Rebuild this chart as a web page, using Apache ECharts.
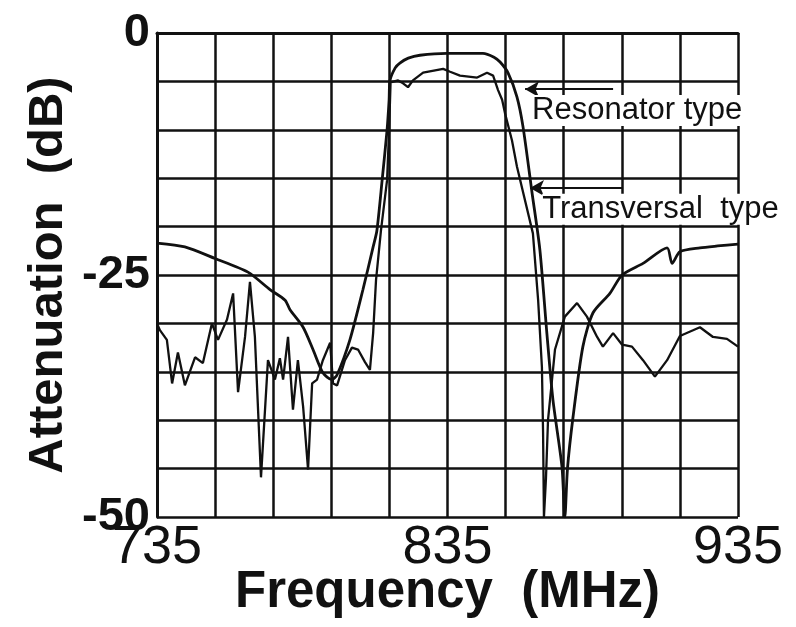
<!DOCTYPE html>
<html>
<head>
<meta charset="utf-8">
<script src="https://cdn.jsdelivr.net/npm/echarts@6/dist/echarts.min.js"></script>
<style>
  html, body { margin: 0; padding: 0; background: #fff; }
  #chart { width: 796px; height: 627px; }
</style>
</head>
<body>
<div id="chart"></div>
<script>
// Resonator-type SAW filter response (frequency in MHz, attenuation in dB)
const resonatorFreq = [735, 744.6, 755.0, 766.3, 773.9, 779.1, 780.8, 785.3, 788.7, 792.1, 795.2, 797.0,
  801.4, 805.9, 809.4, 810.7, 812.5, 814.2, 814.9, 815.2, 817.0, 818.6, 821.5, 825.5, 834.8, 847.2,
  851.0, 853.1, 855.8, 858.9, 861.0, 864.1, 866.8, 869.2, 871.3, 874.4, 875.4, 876.3, 878.2, 881.6,
  885.1, 890.9, 895.1, 902.3, 910.6, 912.3, 915.0, 921.9, 928.0, 935];
const resonatorAtt = [-21.7, -22.1, -23.3, -24.7, -26.5, -27.6, -28.6, -30.4, -32.7, -35.1, -35.8, -35.3,
  -31.7, -26.5, -22.1, -20.4, -15.2, -10.0, -6.9, -4.9, -3.6, -3.1, -2.6, -2.3, -2.1, -2.1,
  -2.5, -3.0, -4.1, -6.6, -9.7, -16.5, -22.4, -31.0, -37.9, -44.8, -50, -45.0, -39.7, -32.4,
  -28.9, -26.9, -25.0, -23.8, -22.2, -23.8, -22.6, -22.2, -22.0, -21.8];

// Transversal-type SAW filter response
const transversalFreq = [735, 736, 738.4, 740.2, 742.2, 744.6, 748.1, 750.8, 753.9, 756.0, 759.1, 761.2,
  762.9, 765.3, 767.0, 768.7, 770.8, 773.2, 775.6, 777.3, 778.4, 780.1, 781.8, 783.5, 785.3, 787.0,
  788.4, 790.1, 792.1, 794.6, 795.6, 797.0, 799.7, 802.1, 804.2, 806.6, 808.3, 809.4, 810.4, 812.1,
  814.2, 814.9, 815.4, 818.0, 819.7, 821.4, 823.1, 826.6, 833.5, 835.9, 839.3, 845.2, 848.6, 850.7,
  852.4, 853.8, 854.8, 857.2, 858.9, 864.4, 866.2, 867.5, 867.9, 868.2, 868.9, 869.6, 872.0, 875.4,
  879.6, 883.0, 886.5, 888.5, 892.0, 895.1, 898.5, 902.3, 906.4, 910.6, 915.0, 921.9, 926.4, 931.2, 935];
const transversalAtt = [-30.0, -30.7, -31.7, -36.2, -33.0, -36.4, -33.5, -34.1, -30.0, -31.7, -29.6, -26.9,
  -37.1, -31.4, -25.7, -31.4, -45.9, -33.8, -35.8, -33.6, -35.8, -31.4, -38.9, -33.8, -38.6, -45.1,
  -36.2, -35.8, -33.8, -32.0, -36.2, -36.4, -33.8, -32.5, -32.7, -34.0, -34.8, -31.0, -25.5, -20.4,
  -15.2, -10.0, -5.1, -4.9, -5.2, -5.6, -4.9, -4.1, -3.7, -4.0, -4.4, -4.6, -4.1, -4.4,
  -5.9, -6.9, -8.3, -11.1, -13.8, -20.7, -27.6, -34.5, -41.3, -50, -46.0, -40.0, -32.7, -29.3,
  -27.9, -29.3, -31.4, -32.4, -31.0, -32.2, -32.4, -33.8, -35.5, -33.8, -31.3, -30.4, -31.4, -31.6, -32.4];

// Axis ticks
const xGridValues = [735, 755, 775, 795, 815, 835, 855, 875, 895, 915, 935];
const xLabelValues = [735, 835, 935];
const yLabelValues = [0, -25, -50];

const seriesNames = ['Resonator type', 'Transversal  type'];

const zip = (xs, ys) => xs.map((x, i) => [x, ys[i]]);

const ink = '#111';
const font = '"Liberation Sans", Arial, Helvetica, sans-serif';

// Callout arrows (tail -> head) and label anchors, in data units
const callouts = [
  { name: seriesNames[0], tail: [892.0, -5.8], head: [861.7, -5.8], text: [864.1, -8.0] },
  { name: seriesNames[1], tail: [895.1, -16.0], head: [863.4, -16.0], text: [867.6, -18.2] }
];

const chart = echarts.init(document.getElementById('chart'), null, { renderer: 'canvas' });

const option = {
  backgroundColor: '#fff',
  animation: false,
  grid: { left: 157, right: 58, top: 33, bottom: 110, show: false, containLabel: false, outerBoundsMode: 'none' },
  xAxis: {
    type: 'value',
    min: 735,
    max: 935,
    name: 'Frequency  (MHz)',
    nameLocation: 'middle',
    nameGap: 50,
    nameMoveOverlap: false,
    nameTextStyle: { color: ink, fontFamily: font, fontSize: 51, fontWeight: 'bold' },
    axisLine: { show: true, lineStyle: { color: ink, width: 3 } },
    axisTick: { show: false, customValues: xGridValues },
    axisLabel: {
      customValues: xLabelValues,
      color: ink, fontFamily: font, fontSize: 54, margin: 4
    },
    splitLine: { show: true, lineStyle: { color: ink, width: 2.5 } }
  },
  yAxis: {
    type: 'value',
    min: -50,
    max: 0,
    interval: 5,
    name: 'Attenuation  (dB)',
    nameLocation: 'middle',
    nameGap: 84,
    nameMoveOverlap: false,
    nameTextStyle: { color: ink, fontFamily: font, fontSize: 49, fontWeight: 'bold' },
    axisLine: { show: true, lineStyle: { color: ink, width: 3 } },
    axisTick: { show: false },
    axisLabel: {
      customValues: yLabelValues,
      color: ink, fontFamily: font, fontSize: 47, fontWeight: 'bold', margin: 7
    },
    splitLine: { show: true, lineStyle: { color: ink, width: 2.5 } }
  },
  series: [
    {
      name: seriesNames[0],
      type: 'line',
      data: zip(resonatorFreq, resonatorAtt),
      showSymbol: false,
      smooth: 0.25,
      lineStyle: { color: ink, width: 2.8 },
      z: 5,
      markLine: {
        silent: true,
        symbol: ['none', 'arrow'],
        symbolSize: [12, 14],
        label: { show: false },
        lineStyle: { color: ink, width: 2, type: 'solid' },
        data: callouts.map(c => [{ coord: c.tail }, { coord: c.head }])
      }
    },
    {
      name: seriesNames[1],
      type: 'line',
      data: zip(transversalFreq, transversalAtt),
      showSymbol: false,
      smooth: false,
      lineStyle: { color: ink, width: 2.3 },
      z: 5
    }
  ]
};

chart.setOption(option);

// Callout labels placed next to their arrows
chart.setOption({
  graphic: callouts.map(c => {
    const p = chart.convertToPixel({ gridIndex: 0 }, c.text);
    return {
      type: 'text',
      x: p[0],
      y: p[1],
      z: 10,
      style: {
        text: c.name,
        fill: ink,
        font: '31px ' + font,
        textVerticalAlign: 'middle',
        textAlign: 'left',
        backgroundColor: '#fff'
      }
    };
  })
});
</script>
</body>
</html>
